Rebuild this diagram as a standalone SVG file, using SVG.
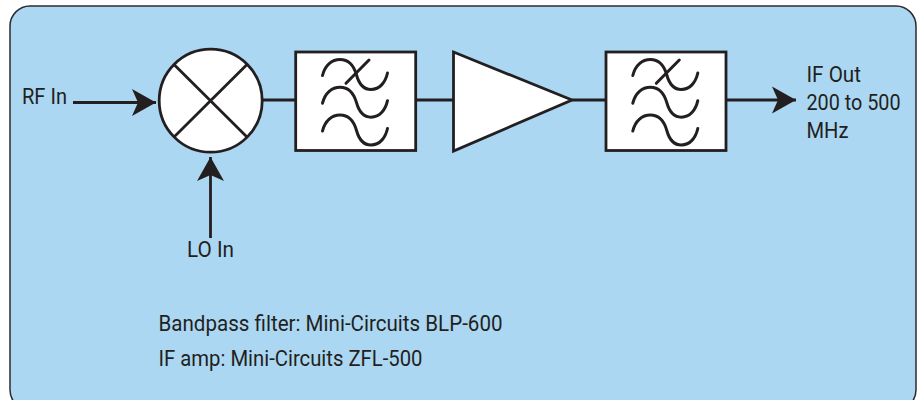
<svg xmlns="http://www.w3.org/2000/svg" width="917" height="400" viewBox="0 0 917 400">
<style>
.l{fill:none;stroke:#231f20;stroke-width:2.800}
.b{fill:#fff;stroke:#231f20;stroke-width:2.800}
.c{fill:none;stroke:#231f20;stroke-width:3;stroke-linecap:round}
text{font-family:"Roboto","Liberation Sans",sans-serif;font-size:22px;fill:#231f20}
</style>
<defs>
<marker id="a" markerUnits="userSpaceOnUse" markerWidth="26" markerHeight="28" refX="24" refY="14" orient="auto"><path d="M0 0.500L24 14L0 27.500L6 14Z" fill="#231f20"/></marker>
<path id="curves" class="c" d="M322.500 75.500C325 65 332 59.500 340 59.500C349 59.500 354 66 356.500 75C359 84 364 89.500 371 89.500C380 89.500 385.500 82 387.500 73"/>
</defs>
<rect id="panel" x="10" y="6" width="906" height="404" rx="20" fill="#abd7f3" stroke="#2b2b30" stroke-width="1.500"/>
<g id="connectors">
<path class="l" d="M73 102.500H156" marker-end="url(#a)"/>
<path class="l" d="M210.500 238V157" marker-end="url(#a)"/>
<path class="l" d="M262 100H296M416 100H453M572 100H606"/>
<path class="l" d="M726 100H796" marker-end="url(#a)"/>
</g>
<g id="mixer">
<circle class="b" cx="210.700" cy="100.700" r="51.500"/>
<path d="M174 64.500L247 137M247 64.500L174 137" fill="none" stroke="#231f20" stroke-width="2.800"/>
</g>
<g id="filter1">
<rect class="b" x="295.700" y="52" width="120" height="98.500"/>
<use href="#curves"/><use href="#curves" y="27.700"/><use href="#curves" y="55.500"/>
<path class="c" d="M346 83.300L369 60"/>
</g>
<g id="amp">
<path class="b" d="M453.500 52L572 100L453.500 151Z"/>
</g>
<g id="filter2">
<rect class="b" x="606" y="52" width="120" height="98.500"/>
<use href="#curves" x="310.300"/><use href="#curves" x="310.300" y="27.700"/><use href="#curves" x="310.300" y="55.500"/>
<path class="c" d="M656.300 83.300L679.300 60"/>
</g>
<g id="labels">
<text x="22" y="103.500" textLength="45" lengthAdjust="spacingAndGlyphs">RF In</text>
<text x="187" y="257" textLength="47" lengthAdjust="spacingAndGlyphs">LO In</text>
<text x="806.500" y="82" textLength="54.500" lengthAdjust="spacingAndGlyphs">IF Out</text>
<text x="806.500" y="110" textLength="94" lengthAdjust="spacingAndGlyphs">200 to 500</text>
<text x="806.500" y="138" textLength="42" lengthAdjust="spacingAndGlyphs">MHz</text>
<text x="158.500" y="331" textLength="344" lengthAdjust="spacingAndGlyphs">Bandpass filter: Mini-Circuits BLP-600</text>
<text x="158.500" y="365.700" textLength="264" lengthAdjust="spacingAndGlyphs">IF amp: Mini-Circuits ZFL-500</text>
</g>
</svg>
